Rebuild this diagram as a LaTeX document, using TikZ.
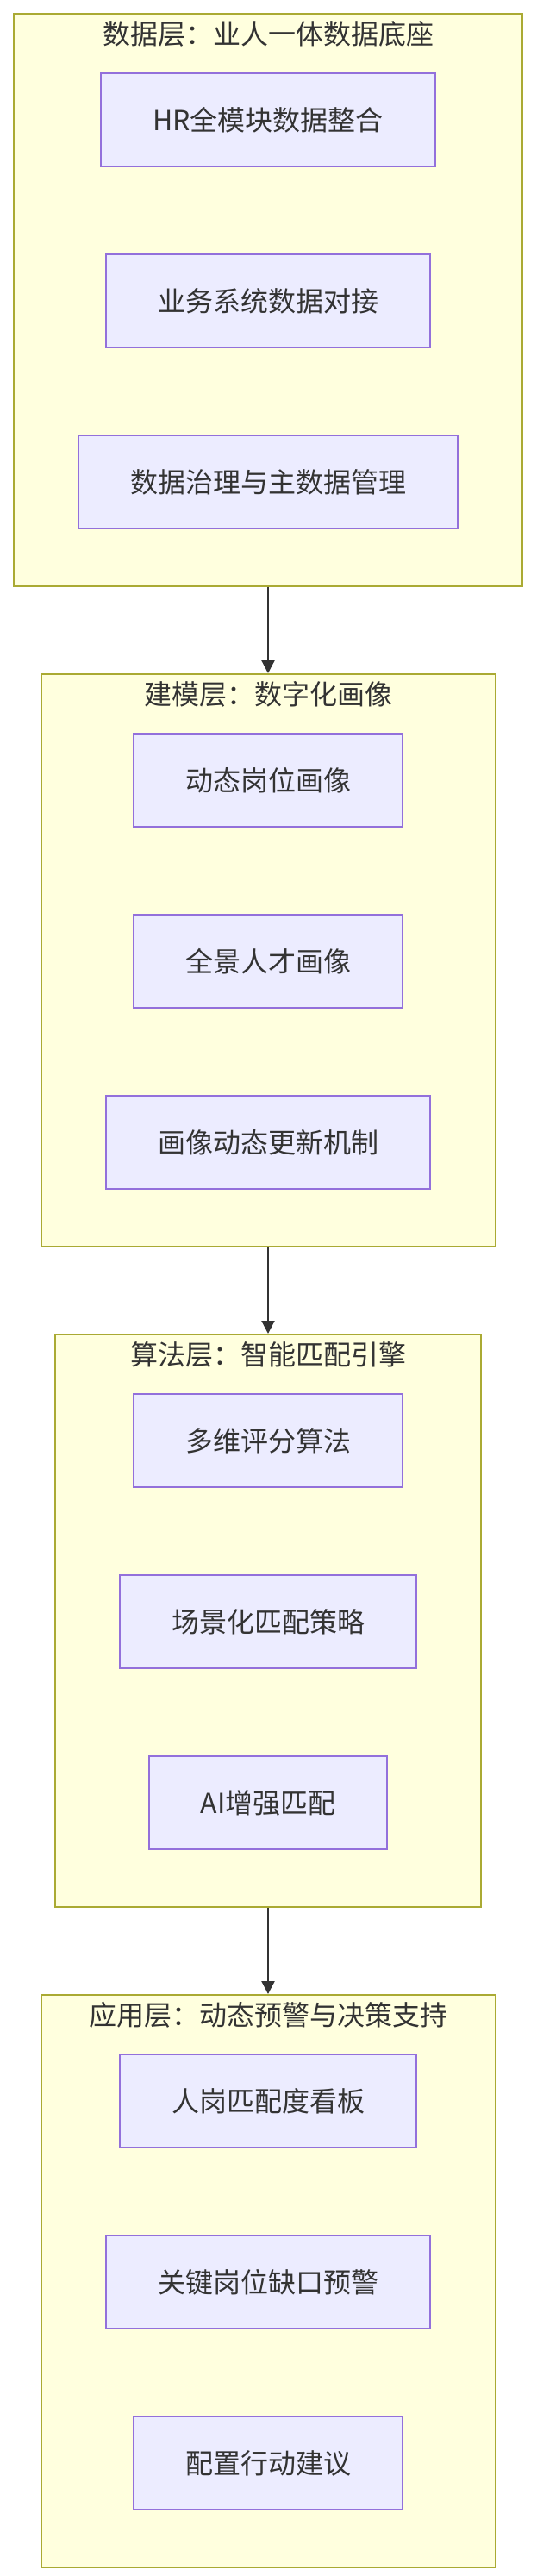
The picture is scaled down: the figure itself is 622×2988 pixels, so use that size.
\documentclass[tikz,border=0pt]{standalone}
\usepackage{fontspec}
\newfontfamily\cjkfont{Noto Sans CJK SC}
\usetikzlibrary{arrows.meta,positioning,calc}
\definecolor{layerfill}{HTML}{FFFFDE}
\definecolor{layerline}{HTML}{AAAA33}
\definecolor{itemfill}{HTML}{ECECFF}
\definecolor{itemline}{HTML}{9370DB}
\definecolor{inkgrey}{HTML}{333333}

\begin{document}
\begin{tikzpicture}[
    x=1pt, y=-1pt,
    >={Triangle[length=15pt,width=15pt]},
    layer/.style      = {draw=layerline, fill=layerfill, line width=2pt,
                         minimum height=663.5pt, inner sep=0pt},
    layertitle/.style = {text=inkgrey, inner sep=0pt,
                         font=\cjkfont\fontsize{32}{38}\selectfont},
    item/.style       = {draw=itemline, fill=itemfill, text=inkgrey, line width=2pt,
                         minimum height=108pt, inner xsep=60pt, inner ysep=0pt,
                         align=center, font=\cjkfont\fontsize{32}{38}\selectfont},
    flow/.style       = {draw=inkgrey, line width=2.2pt, ->},
  ]
  \useasboundingbox (0,0) rectangle (622,2988);

  % --- Data layer ------------------------------------------------------
  \node[layer, minimum width=590pt] (datalayer) at (311,347.75) {};
  \node[layertitle] (datatitle) at ($(datalayer.north)+(0,24.5)$)
    {数据层：业人一体数据底座};
  \node[item] (hrdata) at ($(datalayer.north)+(0,124)$) {HR全模块数据整合};
  \node[item, below=100pt of hrdata] (bizdata) {业务系统数据对接};
  \node[item, below=100pt of bizdata] (govern) {数据治理与主数据管理};

  % --- Modelling layer -------------------------------------------------
  \node[layer, minimum width=527pt, below=100.5pt of datalayer] (modellayer) {};
  \node[layertitle] (modeltitle) at ($(modellayer.north)+(0,24.5)$)
    {建模层：数字化画像};
  \node[item] (jobprof) at ($(modellayer.north)+(0,124)$) {动态岗位画像};
  \node[item, below=100pt of jobprof] (talentprof) {全景人才画像};
  \node[item, below=100pt of talentprof] (profupd) {画像动态更新机制};

  % --- Algorithm layer -------------------------------------------------
  \node[layer, minimum width=494pt, below=100.5pt of modellayer] (algolayer) {};
  \node[layertitle] (algotitle) at ($(algolayer.north)+(0,24.5)$)
    {算法层：智能匹配引擎};
  \node[item] (multiscore) at ($(algolayer.north)+(0,124)$) {多维评分算法};
  \node[item, below=100pt of multiscore] (scenematch) {场景化匹配策略};
  \node[item, below=100pt of scenematch] (aimatch) {AI增强匹配};

  % --- Application layer -----------------------------------------------
  \node[layer, minimum width=527pt, below=100.5pt of algolayer] (applayer) {};
  \node[layertitle] (apptitle) at ($(applayer.north)+(0,24.5)$)
    {应用层：动态预警与决策支持};
  \node[item] (fitboard) at ($(applayer.north)+(0,124)$) {人岗匹配度看板};
  \node[item, below=100pt of fitboard] (gapwarn) {关键岗位缺口预警};
  \node[item, below=100pt of gapwarn] (actsugg) {配置行动建议};

  % layer to layer
  \draw[flow] (datalayer.south) -- (modellayer.north);
  \draw[flow] (modellayer.south) -- (algolayer.north);
  \draw[flow] (algolayer.south) -- (applayer.north);

\end{tikzpicture}
\end{document}
